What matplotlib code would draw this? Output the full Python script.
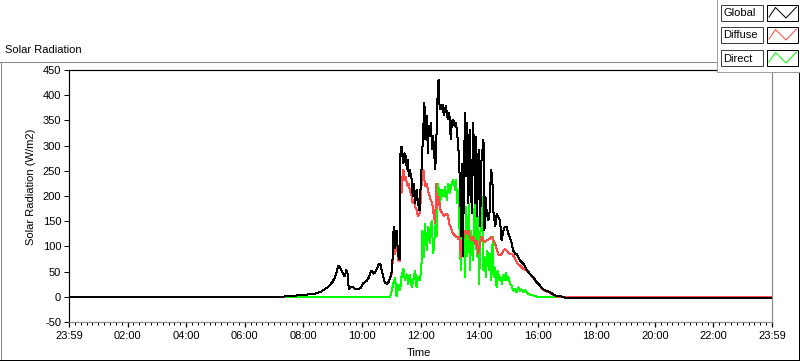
import matplotlib
matplotlib.use("Agg")
import matplotlib.pyplot as plt
from matplotlib.lines import Line2D
from matplotlib.patches import Rectangle
import numpy as np

plt.rcParams['font.family'] = ['Liberation Sans', 'DejaVu Sans']

W, H = 800, 361

# ---------------- data (minutes after midnight, W/m2) ----------------
global_t = [0, 440, 443, 460, 479, 495, 507, 516, 524, 530, 535, 540, 545, 549, 552, 555, 558, 561,
            565, 568, 571, 573, 576, 580, 586, 592, 597, 602, 607, 611, 615, 618, 621, 624, 627, 632,
            635, 638, 641, 644, 647, 651, 655, 659, 661, 663, 665, 667, 669, 671, 673, 675, 677,
            679, 681, 683, 685, 687, 690, 692, 694, 696, 698, 702, 704, 707, 709, 712, 715, 718, 720,
            722, 726, 728, 730, 733, 735, 737, 739, 741, 744, 746, 750, 752, 754, 757, 759, 761, 765,
            768, 772, 776, 779, 782, 784, 787, 790, 793, 795, 797, 799, 801, 803, 805, 807, 809, 811,
            813, 816, 818, 821, 825, 828, 832, 834, 836, 839, 842, 845, 849, 851, 853, 856, 859, 862,
            864, 867, 869, 873, 876, 879, 883, 886, 890, 893, 896, 900, 903, 907, 910, 914, 917, 920,
            924, 927, 931, 937, 944, 951, 958, 965, 971, 978, 985, 992, 998, 1006, 1012, 1016, 1440]
global_v = [0, 0, 1, 2, 4, 5, 7, 10, 15, 19, 24, 30, 39, 52, 62, 58, 52, 46,
            40, 54, 44, 16, 18, 20, 16, 16, 17, 26, 30, 33, 40, 50, 52, 46, 48, 58,
            66, 64, 50, 40, 28, 26, 30, 42, 50, 80, 139, 95, 125, 132, 100, 79, 75,
            285, 299, 279, 265, 285, 279, 252, 272, 239, 252, 232, 199, 225, 185, 212, 185, 172, 212,
            252, 339, 385, 312, 359, 285, 339, 319, 345, 292, 319, 252, 285, 379, 432, 379, 372, 382,
            359, 379, 352, 365, 312, 345, 352, 339, 345, 319, 312, 259, 232, 119, 265, 79, 239, 365,
            239, 345, 185, 332, 165, 345, 185, 319, 159, 292, 139, 272, 312, 132, 199, 165, 152, 172,
            252, 239, 172, 139, 165, 159, 152, 112, 132, 139, 139, 125, 119, 105, 92, 85, 85, 79,
            72, 69, 65, 55, 45, 39, 29, 22, 15, 12, 9, 5, 2, 1, 0, -2, -2]

diffuse_t = [0, 440, 443, 460, 479, 495, 507, 516, 524, 530, 535, 540, 545, 549, 552, 555, 558, 561,
             565, 568, 571, 573, 576, 580, 586, 592, 597, 602, 607, 611, 615, 618, 621, 624, 627, 632,
             635, 638, 641, 644, 647, 651, 655, 659, 661, 663, 665, 667, 669, 671, 673, 675, 677,
             679, 681, 683, 685, 687, 690, 692, 694, 696, 698, 702, 704, 707, 709, 712, 715, 718, 720,
             722, 726, 728, 730, 733, 735, 737, 739, 741, 744, 746, 750, 752, 754, 757, 759, 761, 765,
             768, 772, 776, 779, 782, 784, 787, 790, 793, 795, 797, 799, 801, 803, 805, 807, 809, 811,
             814, 818, 821, 825, 828, 832, 835, 838, 842, 845, 849, 852, 856, 862, 866, 869, 873, 876,
             879, 883, 886, 890, 893, 896, 900, 903, 907, 910, 914, 917, 920, 924, 927, 931, 937, 944,
             951, 958, 965, 971, 978, 985, 992, 998, 1006, 1440]
diffuse_v = [0, 0, 1, 2, 4, 5, 7, 10, 15, 19, 24, 30, 39, 52, 62, 58, 52, 46,
             40, 54, 44, 16, 18, 20, 16, 16, 17, 26, 30, 33, 40, 50, 52, 46, 48, 58,
             66, 64, 50, 40, 28, 26, 30, 40, 45, 70, 112, 85, 100, 105, 90, 72, 70,
             240, 205, 230, 252, 232, 239, 225, 219, 225, 212, 199, 185, 192, 179, 172, 159, 165, 185,
             220, 252, 232, 219, 225, 212, 205, 199, 192, 185, 170, 145, 225, 175, 199, 185, 172, 165,
             159, 165, 162, 145, 139, 132, 125, 122, 119, 119, 115, 119, 105, 79, 112, 105, 125, 132,
             125, 132, 119, 112, 119, 105, 112, 85, 105, 119, 112, 109, 112, 115, 119, 112, 105, 95,
             85, 82, 85, 92, 95, 92, 87, 85, 85, 82, 75, 69, 65, 62, 59, 55, 52, 45,
             38, 28, 21, 14, 11, 8, 4, 1, 0, 0]

direct_t = [0, 658, 661, 664, 668, 671, 675, 678, 681, 685, 688, 692, 695, 698, 702, 705, 709, 712,
            715, 719, 722, 724, 727, 729, 733, 736, 739, 743, 746, 750, 752, 753, 756, 760, 763, 767,
            770, 774, 777, 780, 784, 787, 791, 793, 795, 798, 801, 803, 805, 807, 809, 811, 813, 816,
            819, 821, 824, 827, 830, 832, 835, 838, 840, 843, 846, 849, 851, 854, 857, 860, 862, 865,
            868, 870, 873, 876, 879, 881, 884, 887, 890, 892, 895, 898, 901, 903, 907, 910, 914, 917,
            920, 924, 927, 931, 934, 937, 941, 948, 954, 961, 1440]
direct_v = [0, 0, 12, 25, 39, 0, 25, 12, 39, 55, 32, 45, 25, 45, 19, 32, 52, 19,
            39, 32, 65, 132, 79, 145, 92, 139, 105, 152, 85, 132, 159, 119, 225, 185, 212, 199,
            219, 192, 225, 205, 225, 232, 212, 232, 185, 212, 92, 52, 165, 79, 132, 39, 179, 79,
            185, 52, 132, 72, 152, 225, 79, 159, 25, 132, 199, 52, 79, 39, 92, 52, 85, 32,
            119, 39, 59, 19, 52, 32, 39, 25, 45, 32, 49, 32, 39, 25, 22, 12, 15, 9,
            19, 12, 15, 9, 13, 11, 5, 4, 1, 0, 0]

series_names = ["Global", "Diffuse", "Direct"]
series_colors = ["#000000", "#ff4a4a", "#00ff00"]

x_tick_minutes = [0, 120, 240, 360, 480, 600, 720, 840, 960, 1080, 1200, 1320, 1440]
x_tick_labels = ["23:59", "02:00", "04:00", "06:00", "08:00", "10:00", "12:00",
                 "14:00", "16:00", "18:00", "20:00", "22:00", "23:59"]
y_ticks = [-50, 0, 50, 100, 150, 200, 250, 300, 350, 400, 450]

# ---------------- figure ----------------
def fx(x):
    return x / W

def fy(y):
    return 1 - y / H

PX = 72.0 / 100.0  # one pixel in points

fig = plt.figure(figsize=(8, 3.61), dpi=100, facecolor="white")
ax = fig.add_axes([fx(69), fy(322), (772 - 69) / W, (322 - 70) / H])
ax.set_facecolor("white")

data = [(global_t, global_v), (diffuse_t, diffuse_v), (direct_t, direct_v)]
zorders = [5, 4, 3]
for (t, v), c, z in zip(data, series_colors, zorders):
    ax.plot(t, v, color=c, lw=1.0 * PX, antialiased=False, zorder=z, solid_joinstyle="miter")

ax.set_xlim(0, 1440)
ax.set_ylim(-50, 450)
ax.set_xticks(x_tick_minutes)
ax.set_xticklabels(x_tick_labels)
ax.set_xticks(np.arange(0, 1441, 12), minor=True)
ax.set_yticks(y_ticks)
ax.set_yticklabels([str(v) for v in y_ticks])

ax.tick_params(axis="x", which="major", direction="out", length=5 * PX, width=1.3 * PX,
               color="black", pad=3, labelsize=8)
ax.tick_params(axis="x", which="minor", direction="out", length=3 * PX, width=1.0 * PX,
               color="black")
ax.tick_params(axis="y", which="major", direction="out", length=5 * PX, width=1.0 * PX,
               color="black", pad=2, labelsize=8)

for side in ["top", "left"]:
    ax.spines[side].set_color("black")
    ax.spines[side].set_linewidth(1.2 * PX)
for side in ["right", "bottom"]:
    ax.spines[side].set_color("#8a8a8a")
    ax.spines[side].set_linewidth(1.2 * PX)

# texts
fig.text(fx(5), fy(50), "Solar Radiation", fontsize=8, ha="left", va="center")
fig.text(fx(31), fy(187), "Solar Radiation (W/m2)", fontsize=8, rotation=90,
         ha="center", va="center")
fig.text(fx(419), fy(353), "Time", fontsize=8, ha="center", va="center")

# outer frame lines
def fline(xs, ys, color, lw=1.0, z=10):
    fig.add_artist(Line2D([fx(x) for x in xs], [fy(y) for y in ys], color=color,
                          lw=lw * PX, antialiased=False, zorder=z))

fline([0, 717], [62, 62], "#8a8a8a")
fline([0.5, 0.5], [62, 361], "#8a8a8a")
fline([0, 800], [360, 360], "black")
fline([799, 799], [72, 361], "black")

# legend panel
fig.add_artist(Rectangle((fx(717), fy(72)), (800 - 717) / W, 72 / H, transform=fig.transFigure,
                         facecolor="white", edgecolor="none", zorder=20))
fline([717, 717], [0, 72], "#a0a0a0", z=21)
fline([717, 800], [72, 72], "#a0a0a0", z=21)

row_tops = [5, 27, 50]
for name, col, y0 in zip(series_names, series_colors, row_tops):
    fig.add_artist(Rectangle((fx(721), fy(y0 + 16)), 42 / W, 16 / H, transform=fig.transFigure,
                             facecolor="white", edgecolor="#404040", lw=1.0 * PX, zorder=22))
    fig.text(fx(723.5), fy(y0 + 8.5), name, fontsize=8, ha="left", va="center", zorder=23)
    fig.add_artist(Rectangle((fx(767), fy(y0 + 16)), 31 / W, 16 / H, transform=fig.transFigure,
                             facecolor="white", edgecolor="black", lw=1.0 * PX, zorder=22))
    fig.add_artist(Line2D([fx(769), fx(775.5), fx(786), fx(796.5)],
                          [fy(y0 + 12), fy(y0 + 2.5), fy(y0 + 13), fy(y0 + 2)],
                          color=col, lw=1.0 * PX, zorder=23))

fig.savefig("out.png", dpi=100, facecolor="white")
